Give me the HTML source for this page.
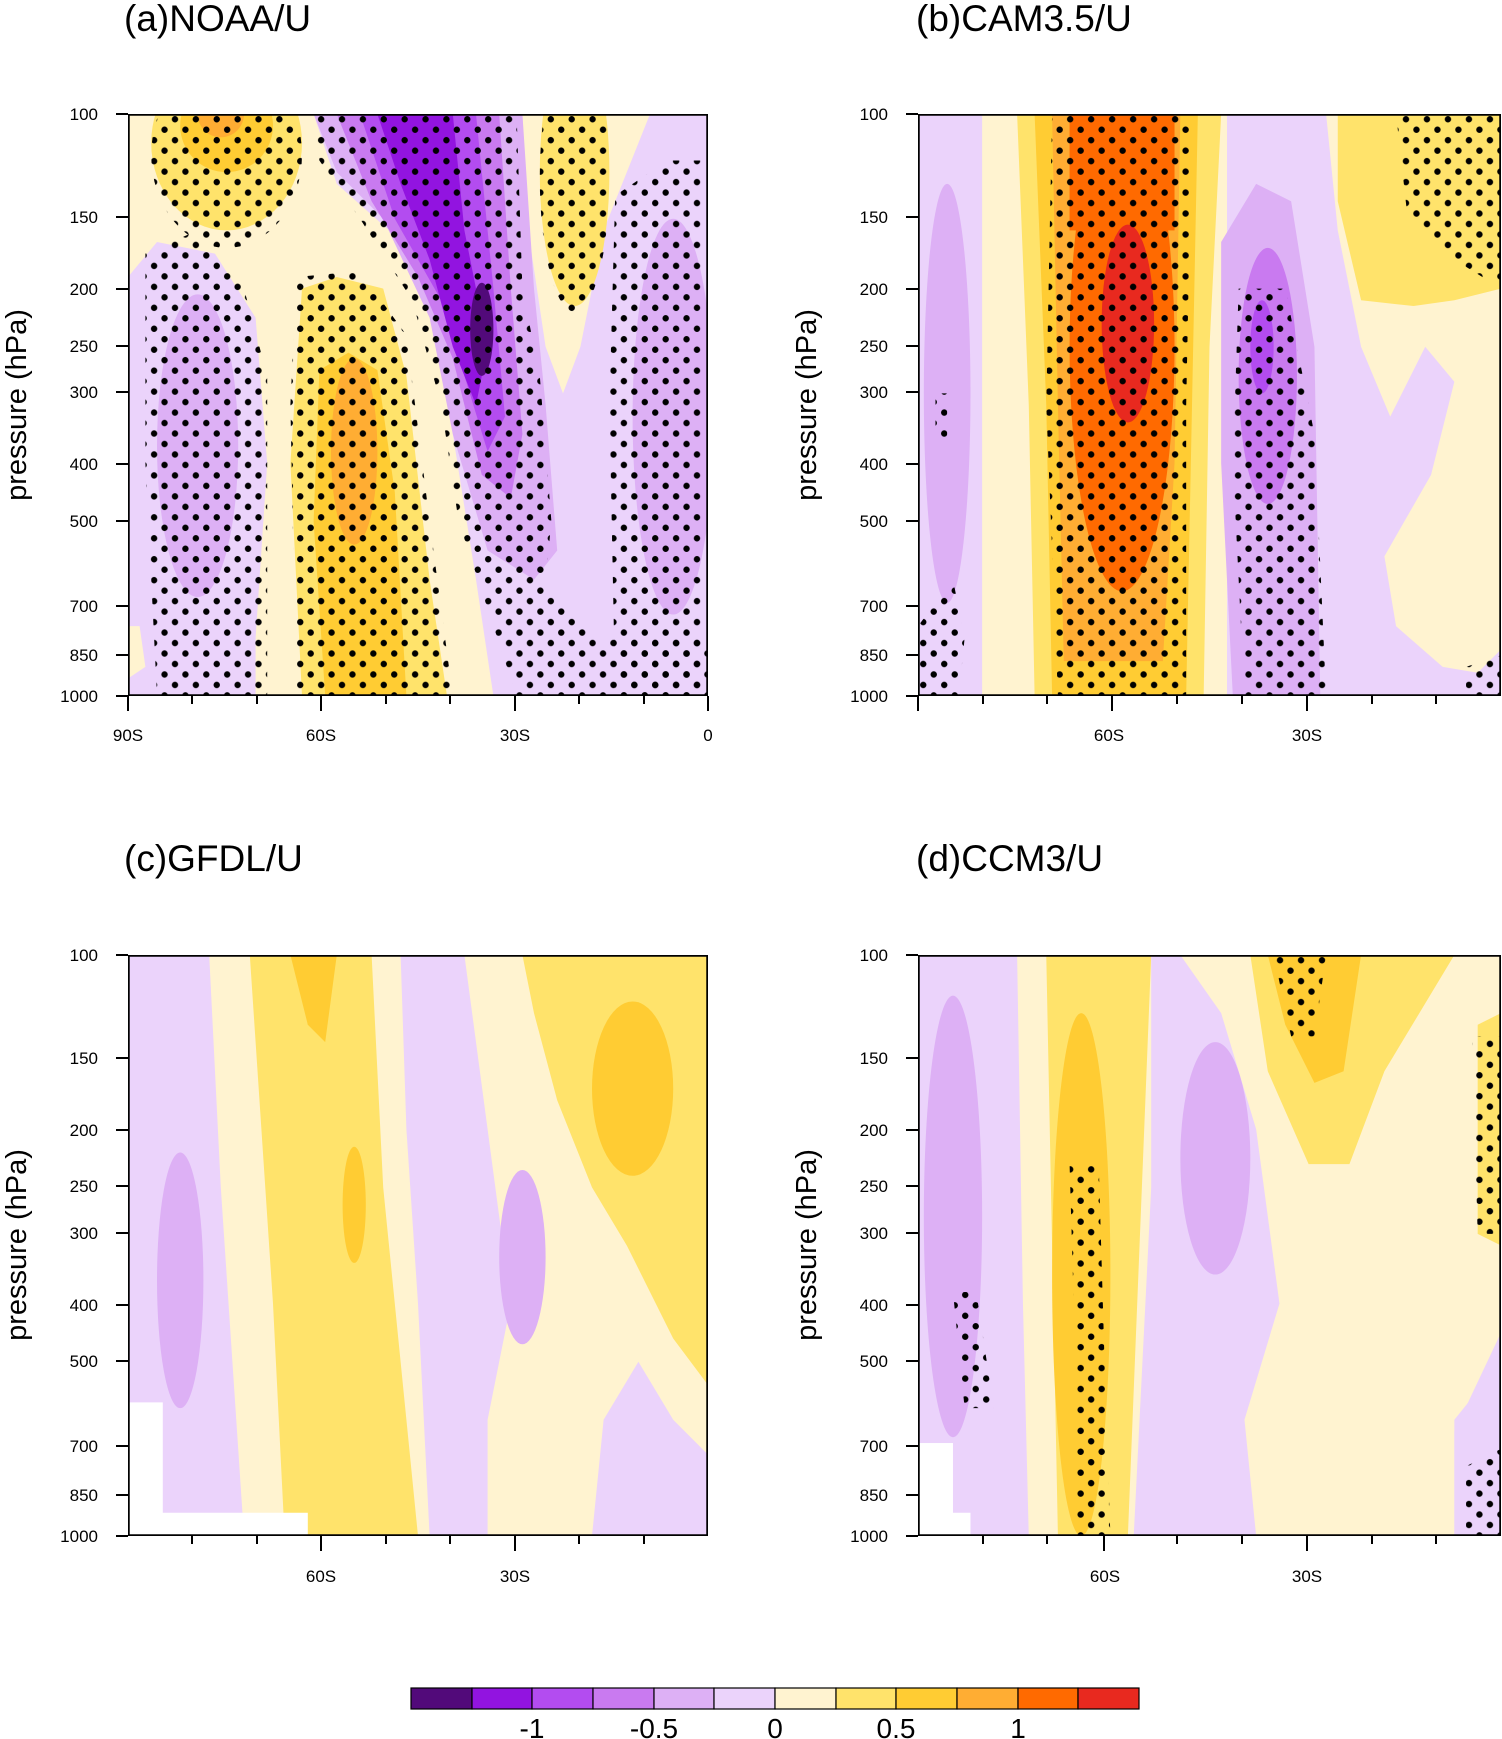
<!DOCTYPE html>
<html><head><meta charset="utf-8"><style>
html,body{margin:0;padding:0;background:#fff;}
svg{display:block;font-family:"Liberation Sans",sans-serif;}
</style></head><body>
<svg width="1502" height="1739" viewBox="0 0 1502 1739" xmlns="http://www.w3.org/2000/svg">
<defs>
<pattern id="dots" patternUnits="userSpaceOnUse" width="3.6" height="3.6">
<circle cx="0.9" cy="0.9" r="0.55" fill="#000"/><circle cx="2.7" cy="2.7" r="0.55" fill="#000"/>
</pattern>
</defs>

<!-- Panel A -->
<svg x="128" y="114" width="580" height="582" viewBox="0 0 100 100" preserveAspectRatio="none">
<rect width="100" height="100" fill="#ebd3fb"/>
<polygon fill="#fff3d0" points="0,0 32,0 36,12 45,20 52,32 56,55 60,80 63,100 22,100 22,90 24,60 22,35 15,24 5,22 0,28"/>
<polygon fill="#fff3d0" points="0,88 2,88 3,95 0,97"/>
<ellipse cx="17" cy="5" rx="13" ry="15" fill="#ffe36b"/>
<ellipse cx="17" cy="2" rx="8" ry="8" fill="#ffcc33"/>
<ellipse cx="16" cy="0" rx="4" ry="4" fill="#ffad33"/>
<polygon fill="#ffe36b" points="30,30 36,28 44,30 48,45 52,80 55,100 30,100 28,60"/>
<polygon fill="#ffcc33" points="33,44 38,41 43,44 46,65 48,100 34,100 32,70"/>
<ellipse cx="39" cy="58" rx="4" ry="16" fill="#ffad33"/>
<polygon fill="#fff3d0" points="68,0 90,0 82,20 78,40 75,48 72,40 69,20"/>
<ellipse cx="77" cy="10" rx="6" ry="23" fill="#ffe36b"/>
<polygon fill="#ddb0f5" points="32,0 68,0 70,30 72,50 74,75 70,80 62,75 56,55 52,35 44,18 36,10"/>
<polygon fill="#c97af0" points="36,0 64,0 66,30 68,55 66,66 61,62 56,42 50,28 42,15"/>
<polygon fill="#b34cf0" points="40,0 60,0 63,30 65,52 62,58 58,45 54,32 46,18"/>
<polygon fill="#9214e0" points="43,0 56,0 58,20 62,40 60,50 56,40 52,25 47,12"/>
<ellipse cx="61" cy="37" rx="2" ry="8" fill="#520a7a"/>
<ellipse cx="12" cy="57" rx="7" ry="26" fill="#ddb0f5"/>
<ellipse cx="94" cy="52" rx="7" ry="34" fill="#ddb0f5"/>
<g fill="url(#dots)">
<ellipse cx="17" cy="7" rx="13" ry="16"/>
<polygon points="3,24 12,20 20,30 24,45 24,100 5,100 3,60"/>
<polygon points="29,28 40,27 48,38 52,70 56,100 29,100 28,50"/>
<polygon points="32,0 67,0 68,30 71,45 73,70 72,80 80,90 100,90 100,100 67,100 62,85 57,70 54,50 49,32 40,18 33,8"/>
<ellipse cx="77" cy="11" rx="6" ry="23"/>
<polygon points="84,14 93,8 99,8 99,100 84,100 83,50"/>
</g>
<rect width="100" height="100" fill="none" stroke="#000" stroke-width="0.6"/>
</svg>

<!-- Panel B -->
<svg x="918" y="114" width="583" height="582" viewBox="0 0 100 100" preserveAspectRatio="none">
<rect width="100" height="100" fill="#ebd3fb"/>
<ellipse cx="5" cy="48" rx="4" ry="36" fill="#ddb0f5"/>
<rect x="11" y="0" width="42" height="100" fill="#fff3d0"/>
<polygon fill="#ffe36b" points="17,0 52,0 50,40 49,100 20,100 19,50"/>
<polygon fill="#ffcc33" points="20,0 48,0 47,50 46,100 23,100 22,50"/>
<polygon fill="#ffad33" points="23,0 45,0 44,60 42,94 25,94 24,50"/>
<ellipse cx="35" cy="40" rx="9" ry="42" fill="#ff6a00"/>
<rect x="26" y="0" width="18" height="20" fill="#ff6a00"/>
<ellipse cx="36" cy="36" rx="4.5" ry="17" fill="#e8291f"/>
<polygon fill="#ddb0f5" points="52,22 58,12 64,15 68,40 69,100 54,100 52,60"/>
<ellipse cx="60" cy="45" rx="5" ry="22" fill="#c97af0"/>
<ellipse cx="59" cy="40" rx="2" ry="8" fill="#b34cf0"/>
<polygon fill="#fff3d0" points="70,0 100,0 100,92 96,96 90,95 82,88 80,76 88,62 92,46 87,40 81,52 76,40 72,20"/>
<polygon fill="#ffe36b" points="72,0 100,0 100,30 92,32 85,33 76,32 72,15"/>
<g fill="url(#dots)">
<polygon points="23,0 47,0 46,50 46,100 24,100 22,50"/>
<polygon points="55,30 63,30 68,55 70,100 56,100 54,60"/>
<polygon points="82,0 100,0 100,30 92,25 84,18"/>
<polygon points="0,88 6,80 8,90 7,100 0,100"/>
<polygon points="3,48 5,48 5,56 3,56"/>
<polygon points="94,95 100,93 100,100 94,100"/>
</g>
<rect width="100" height="100" fill="none" stroke="#000" stroke-width="0.6"/>
</svg>

<!-- Panel C -->
<svg x="128" y="955" width="580" height="581" viewBox="0 0 100 100" preserveAspectRatio="none">
<rect width="100" height="100" fill="#ebd3fb"/>
<polygon fill="#fff3d0" points="14,0 47,0 48,30 50,60 52,100 20,100 18,70 16,40"/>
<polygon fill="#ffe36b" points="21,0 42,0 44,40 48,80 50,100 27,100 25,60 23,30"/>
<polygon fill="#ffcc33" points="28,0 36,0 34,15 31,12"/>
<ellipse cx="39" cy="43" rx="2" ry="10" fill="#ffcc33"/>
<polygon fill="#fff3d0" points="58,0 100,0 100,86 94,80 88,70 82,80 80,100 62,100 62,80 66,60 62,30"/>
<polygon fill="#ffe36b" points="68,0 100,0 100,74 94,66 86,50 80,40 74,25 70,10"/>
<ellipse cx="87" cy="23" rx="7" ry="15" fill="#ffcc33"/>
<ellipse cx="9" cy="56" rx="4" ry="22" fill="#ddb0f5"/>
<ellipse cx="68" cy="52" rx="4" ry="15" fill="#ddb0f5"/>
<rect x="0" y="77" width="6" height="23" fill="#fff"/>
<rect x="0" y="96" width="31" height="4" fill="#fff"/>
<rect width="100" height="100" fill="none" stroke="#000" stroke-width="0.6"/>
</svg>

<!-- Panel D -->
<svg x="918" y="955" width="583" height="581" viewBox="0 0 100 100" preserveAspectRatio="none">
<rect width="100" height="100" fill="#ebd3fb"/>
<polygon fill="#fff3d0" points="17,0 40,0 40,40 38,80 37,100 19,100 18,60"/>
<polygon fill="#ffe36b" points="22,0 40,0 38,50 36,100 24,100 23,50"/>
<ellipse cx="28" cy="55" rx="5" ry="45" fill="#ffcc33"/>
<polygon fill="#fff3d0" points="45,0 100,0 100,70 92,80 92,100 58,100 56,80 62,60 58,30 52,10"/>
<polygon fill="#ffe36b" points="57,0 92,0 80,20 74,36 67,36 60,20"/>
<polygon fill="#ffcc33" points="60,0 76,0 73,20 68,22 63,12"/>
<polygon fill="#ffe36b" points="96,12 100,10 100,50 96,48"/>
<ellipse cx="6" cy="45" rx="5" ry="38" fill="#ddb0f5"/>
<ellipse cx="51" cy="35" rx="6" ry="20" fill="#ddb0f5"/>
<polygon fill="#ebd3fb" points="92,82 100,65 100,100 92,100"/>
<rect x="0" y="84" width="6" height="16" fill="#fff"/>
<rect x="0" y="96" width="9" height="4" fill="#fff"/>
<g fill="url(#dots)">
<polygon points="26,36 31,36 32,70 33,100 27,100 27,70"/>
<polygon points="6,58 10,58 13,78 8,78"/>
<polygon points="61,0 70,0 68,14 64,14"/>
<polygon points="95,14 100,14 100,48 96,48"/>
<polygon points="94,88 100,85 100,100 94,100"/>
</g>
<rect width="100" height="100" fill="none" stroke="#000" stroke-width="0.6"/>
</svg>

<g stroke="#000" stroke-width="2">
<path d="M128,114h-12M128,217h-12M128,289h-12M128,346h-12M128,392h-12M128,464h-12M128,521h-12M128,606h-12M128,655h-12M128,696h-12"/>
<path d="M918,114h-12M918,217h-12M918,289h-12M918,346h-12M918,392h-12M918,464h-12M918,521h-12M918,606h-12M918,655h-12M918,696h-12"/>
<path d="M128,955h-12M128,1058h-12M128,1130h-12M128,1186h-12M128,1233h-12M128,1305h-12M128,1361h-12M128,1446h-12M128,1495h-12M128,1536h-12"/>
<path d="M918,955h-12M918,1058h-12M918,1130h-12M918,1186h-12M918,1233h-12M918,1305h-12M918,1361h-12M918,1446h-12M918,1495h-12M918,1536h-12"/>
<path d="M128,696v15M321,696v15M515,696v15M708,696v15"/>
<path d="M192,696v8M257,696v8M386,696v8M450,696v8M579,696v8M644,696v8"/>
<path d="M918,696v15M1112,696v15M1307,696v15"/>
<path d="M983,696v8M1047,696v8M1177,696v8M1242,696v8M1372,696v8M1436,696v8"/>
<path d="M321,1536v15M515,1536v15"/>
<path d="M192,1536v8M257,1536v8M386,1536v8M450,1536v8M579,1536v8M644,1536v8"/>
<path d="M1104,1536v15M1307,1536v15"/>
<path d="M983,1536v8M1047,1536v8M1177,1536v8M1242,1536v8M1372,1536v8M1436,1536v8"/>
</g>
<g font-size="17" text-anchor="end">
<text x="98" y="120">100</text><text x="98" y="223">150</text><text x="98" y="295">200</text><text x="98" y="352">250</text><text x="98" y="398">300</text><text x="98" y="470">400</text><text x="98" y="527">500</text><text x="98" y="612">700</text><text x="98" y="661">850</text><text x="98" y="702">1000</text>
<text x="888" y="120">100</text><text x="888" y="223">150</text><text x="888" y="295">200</text><text x="888" y="352">250</text><text x="888" y="398">300</text><text x="888" y="470">400</text><text x="888" y="527">500</text><text x="888" y="612">700</text><text x="888" y="661">850</text><text x="888" y="702">1000</text>
<text x="98" y="961">100</text><text x="98" y="1064">150</text><text x="98" y="1136">200</text><text x="98" y="1192">250</text><text x="98" y="1239">300</text><text x="98" y="1311">400</text><text x="98" y="1367">500</text><text x="98" y="1452">700</text><text x="98" y="1501">850</text><text x="98" y="1542">1000</text>
<text x="888" y="961">100</text><text x="888" y="1064">150</text><text x="888" y="1136">200</text><text x="888" y="1192">250</text><text x="888" y="1239">300</text><text x="888" y="1311">400</text><text x="888" y="1367">500</text><text x="888" y="1452">700</text><text x="888" y="1501">850</text><text x="888" y="1542">1000</text>
</g>
<g font-size="17" text-anchor="middle">
<text x="128" y="741">90S</text><text x="321" y="741">60S</text><text x="515" y="741">30S</text><text x="708" y="741">0</text>
<text x="1109" y="741">60S</text><text x="1307" y="741">30S</text>
<text x="321" y="1582">60S</text><text x="515" y="1582">30S</text>
<text x="1105" y="1582">60S</text><text x="1307" y="1582">30S</text>
</g>
<g font-size="29" text-anchor="middle">
<text transform="translate(26,405) rotate(-90)">pressure (hPa)</text>
<text transform="translate(816,405) rotate(-90)">pressure (hPa)</text>
<text transform="translate(26,1245) rotate(-90)">pressure (hPa)</text>
<text transform="translate(816,1245) rotate(-90)">pressure (hPa)</text>
</g>
<g font-size="37">
<text x="124" y="31">(a)NOAA/U</text>
<text x="916" y="31">(b)CAM3.5/U</text>
<text x="124" y="871">(c)GFDL/U</text>
<text x="916" y="871">(d)CCM3/U</text>
</g>
<g stroke="#000" stroke-width="1.2">
<rect x="411" y="1688" width="61" height="21" fill="#520a7a"/>
<rect x="472" y="1688" width="60" height="21" fill="#9214e0"/>
<rect x="532" y="1688" width="61" height="21" fill="#b34cf0"/>
<rect x="593" y="1688" width="61" height="21" fill="#c97af0"/>
<rect x="654" y="1688" width="60" height="21" fill="#ddb0f5"/>
<rect x="714" y="1688" width="61" height="21" fill="#ebd3fb"/>
<rect x="775" y="1688" width="61" height="21" fill="#fff3d0"/>
<rect x="836" y="1688" width="60" height="21" fill="#ffe36b"/>
<rect x="896" y="1688" width="61" height="21" fill="#ffcc33"/>
<rect x="957" y="1688" width="61" height="21" fill="#ffad33"/>
<rect x="1018" y="1688" width="60" height="21" fill="#ff6a00"/>
<rect x="1078" y="1688" width="61" height="21" fill="#e8291f"/>
</g>
<g font-size="28" text-anchor="middle">
<text x="532" y="1738">-1</text><text x="654" y="1738">-0.5</text><text x="775" y="1738">0</text><text x="896" y="1738">0.5</text><text x="1018" y="1738">1</text>
</g>
</svg>
</body></html>
